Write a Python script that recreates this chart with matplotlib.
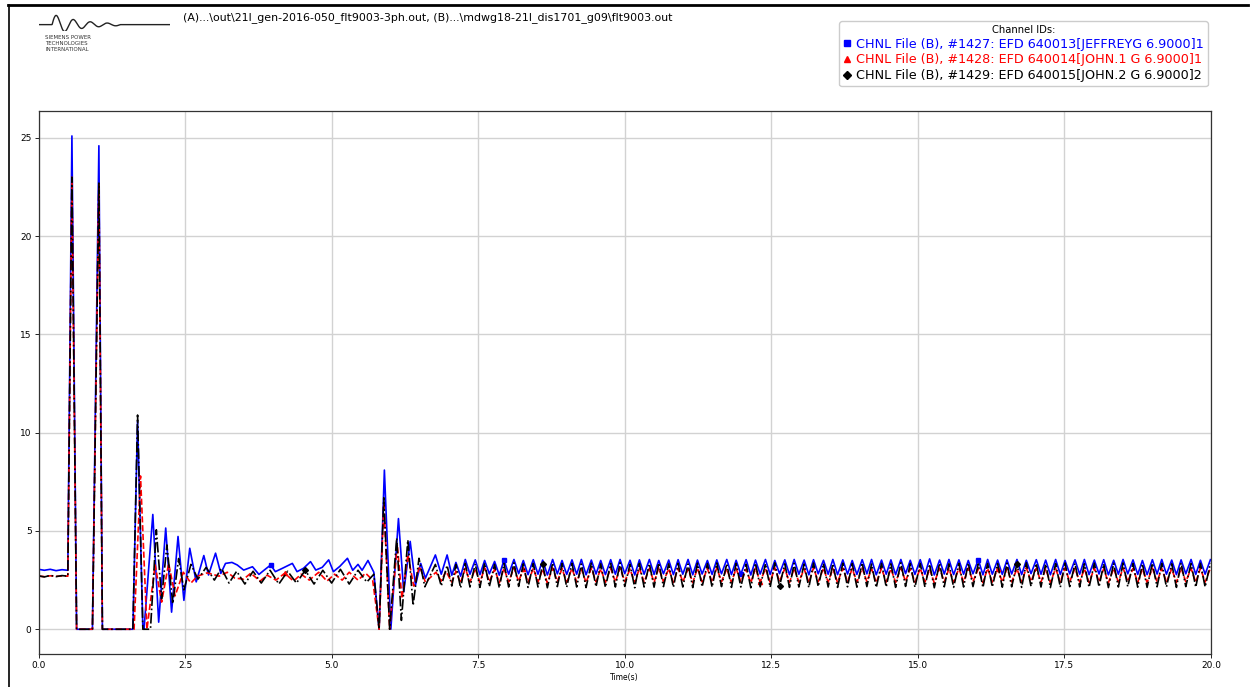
import numpy as np
import matplotlib
matplotlib.use("Agg")
import matplotlib.pyplot as plt
from matplotlib.lines import Line2D

# ---------------- data ----------------
HEADER = r"(A)...\out\21l_gen-2016-050_flt9003-3ph.out, (B)...\mdwg18-21l_dis1701_g09\flt9003.out"
LABELS = ["CHNL File (B), #1427: EFD 640013[JEFFREYG 6.9000]1",
          "CHNL File (B), #1428: EFD 640014[JOHN.1 G 6.9000]1",
          "CHNL File (B), #1429: EFD 640015[JOHN.2 G 6.9000]2"]
COLORS = ["#0000ff", "#ff0000", "black"]

# transient part (0 - 7.2 s)
BLUE_T = [0.0, 0.1, 0.2, 0.3, 0.4, 0.5, 0.57, 0.65, 0.92, 1.03, 1.09, 1.61, 1.69, 1.78, 1.80,
          1.95, 2.05, 2.17, 2.27, 2.38, 2.48, 2.58, 2.69, 2.82, 2.90, 3.02, 3.11, 3.19, 3.30,
          3.39, 3.50, 3.65, 3.76, 3.85, 3.96, 4.04, 4.16, 4.33, 4.41, 4.52, 4.64, 4.73, 4.84,
          4.95, 5.03, 5.14, 5.27, 5.36, 5.45, 5.52, 5.62, 5.72, 5.81, 5.90, 6.01, 6.14, 6.23,
          6.34, 6.43, 6.52, 6.60, 6.77, 6.87, 6.97, 7.05, 7.12, 7.20]
BLUE_V = [3.05, 3.0, 3.05, 2.98, 3.03, 3.0, 25.1, 0.0, 0.0, 24.6, 0.0, 0.0, 10.6, 0.05, 0.0,
          5.84, 0.36, 5.15, 0.87, 4.72, 1.47, 4.12, 2.41, 3.75, 2.76, 3.87, 2.84, 3.35, 3.40,
          3.27, 3.01, 3.18, 2.79, 3.01, 3.27, 2.93, 3.10, 3.35, 2.93, 3.10, 3.44, 3.01, 3.15,
          3.53, 2.93, 3.20, 3.61, 3.0, 3.3, 3.0, 3.5, 2.9, 0.0, 8.1, 0.0, 5.63, 1.90,
          4.47, 2.24, 3.35, 2.6, 3.78, 2.8, 3.78, 2.75, 3.4, 2.7]

RED_T = [0.0, 0.1, 0.2, 0.3, 0.4, 0.5, 0.57, 0.65, 0.92, 1.03, 1.09, 1.63, 1.74, 1.85,
         1.99, 2.10, 2.22, 2.33, 2.47, 2.60, 2.71, 2.88, 3.08, 3.22, 3.35, 3.50, 3.62, 3.78,
         3.90, 4.05, 4.20, 4.35, 4.48, 4.62, 4.78, 4.92, 5.05, 5.18, 5.30, 5.45, 5.58, 5.70,
         5.81, 5.89, 5.99, 6.12, 6.20, 6.30, 6.40, 6.50, 6.60, 6.78, 6.87, 6.95, 7.05, 7.12, 7.20]
RED_V = [2.7, 2.68, 2.72, 2.69, 2.71, 2.7, 23.0, 0.0, 0.0, 22.7, 0.0, 0.0, 7.8, 0.0,
         3.27, 1.38, 3.35, 1.7, 2.9, 2.35, 2.7, 2.87, 2.7, 2.9, 2.6, 2.55, 2.85, 2.45,
         2.75, 2.5, 2.85, 2.45, 2.8, 2.5, 2.9, 2.45, 2.8, 2.5, 2.9, 2.5, 2.85, 2.5,
         0.0, 6.4, 0.0, 4.3, 1.56, 3.8, 2.2, 3.2, 2.4, 2.9, 2.45, 2.95, 2.4, 2.95, 2.35]

BLACK_T = [0.0, 0.1, 0.2, 0.3, 0.4, 0.5, 0.57, 0.65, 0.92, 1.03, 1.09, 1.61, 1.69, 1.78, 1.91,
           2.01, 2.10, 2.19, 2.29, 2.39, 2.48, 2.60, 2.72, 2.86, 3.00, 3.12, 3.25, 3.38, 3.52,
           3.66, 3.80, 3.95, 4.10, 4.25, 4.40, 4.55, 4.70, 4.85, 5.00, 5.15, 5.30, 5.45, 5.60,
           5.72, 5.81, 5.89, 5.99, 6.11, 6.19, 6.30, 6.39, 6.49, 6.59, 6.77, 6.87, 6.97, 7.05,
           7.12, 7.20]
BLACK_V = [2.72, 2.66, 2.74, 2.68, 2.73, 2.7, 23.0, 0.0, 0.0, 22.7, 0.0, 0.0, 10.9, 0.0, 0.0,
           5.06, 1.55, 4.29, 1.30, 3.6, 2.0, 3.3, 2.55, 3.15, 2.5, 3.1, 2.35, 2.95, 2.3,
           2.95, 2.35, 3.0, 2.3, 2.95, 2.35, 3.0, 2.3, 3.0, 2.35, 3.05, 2.3, 3.0, 2.4,
           2.8, 0.0, 6.69, 0.0, 4.64, 0.45, 4.55, 1.21, 3.61, 2.16, 3.3, 2.2, 3.25, 2.2,
           3.3, 2.1]

# sustained oscillation (7.28 - 20 s): peak and trough instants
PEAK_T = [7.28, 7.45, 7.61, 7.78, 7.94, 8.11, 8.27, 8.44, 8.60, 8.77, 8.93, 9.10, 9.26,
          9.43, 9.59, 9.76, 9.92, 10.09, 10.25, 10.42, 10.58, 10.75, 10.91, 11.08, 11.24,
          11.41, 11.57, 11.74, 11.90, 12.07, 12.23, 12.40, 12.56, 12.73, 12.89, 13.06, 13.22,
          13.39, 13.55, 13.72, 13.88, 14.05, 14.21, 14.38, 14.54, 14.71, 14.87, 15.04, 15.20,
          15.37, 15.53, 15.70, 15.86, 16.03, 16.19, 16.36, 16.52, 16.69, 16.85, 17.02, 17.18,
          17.35, 17.51, 17.68, 17.84, 18.01, 18.17, 18.34, 18.50, 18.67, 18.83, 19.00, 19.16,
          19.33, 19.49, 19.66, 19.82, 19.99]
TROUGH_T = [7.36, 7.53, 7.69, 7.86, 8.02, 8.19, 8.35, 8.52, 8.68, 8.85, 9.01, 9.18, 9.34,
            9.51, 9.67, 9.84, 10.00, 10.17, 10.33, 10.50, 10.66, 10.83, 10.99, 11.16, 11.32,
            11.49, 11.65, 11.82, 11.98, 12.15, 12.31, 12.48, 12.64, 12.81, 12.97, 13.14, 13.30,
            13.47, 13.63, 13.80, 13.96, 14.13, 14.29, 14.46, 14.62, 14.79, 14.95, 15.12, 15.28,
            15.45, 15.61, 15.78, 15.94, 16.11, 16.27, 16.44, 16.60, 16.77, 16.93, 17.10, 17.26,
            17.43, 17.59, 17.76, 17.92, 18.09, 18.25, 18.42, 18.58, 18.75, 18.91, 19.08, 19.24,
            19.41, 19.57, 19.74, 19.90]

BLUE_PK = [3.55, 3.53, 3.50, 3.45, 3.52, 3.55, 3.50, 3.54, 3.52, 3.55, 3.50, 3.53, 3.55,
           3.52, 3.50, 3.54, 3.55, 3.51, 3.53, 3.55, 3.50, 3.52, 3.54, 3.55, 3.52,
           3.50, 3.53, 3.55, 3.51, 3.54, 3.52, 3.55, 3.50, 3.53, 3.55, 3.52, 3.54,
           3.51, 3.55, 3.53, 3.50, 3.54, 3.55, 3.52, 3.53, 3.55, 3.51, 3.54, 3.58,
           3.52, 3.55, 3.53, 3.50, 3.54, 3.55, 3.52, 3.53, 3.55, 3.51, 3.54, 3.52,
           3.55, 3.50, 3.53, 3.55, 3.52, 3.54, 3.51, 3.55, 3.53, 3.50, 3.54, 3.55,
           3.52, 3.53, 3.55, 3.51, 3.54]
BLUE_TR = [2.80, 2.78, 2.82, 2.75, 2.80, 2.83, 2.78, 2.80, 2.76, 2.82, 2.79, 2.80, 2.77,
           2.81, 2.78, 2.80, 2.83, 2.76, 2.80, 2.79, 2.82, 2.78, 2.80, 2.77, 2.81,
           2.79, 2.82, 2.78, 2.80, 2.76, 2.81, 2.79, 2.83, 2.78, 2.80, 2.77, 2.82,
           2.80, 2.78, 2.81, 2.79, 2.82, 2.77, 2.80, 2.78, 2.83, 2.79, 2.80, 2.76,
           2.81, 2.78, 2.80, 2.82, 2.77, 2.80, 2.79, 2.81, 2.78, 2.83, 2.80, 2.77,
           2.79, 2.82, 2.80, 2.78, 2.81, 2.77, 2.80, 2.82, 2.79, 2.78, 2.81, 2.80,
           2.78, 2.82, 2.79, 2.80]
RED_PK = [3.10, 3.08, 3.12, 3.05, 3.10, 3.13, 3.08, 3.10, 3.06, 3.12, 3.09, 3.10, 3.07,
          3.11, 3.08, 3.10, 3.13, 3.06, 3.10, 3.09, 3.12, 3.08, 3.10, 3.07, 3.11,
          3.09, 3.12, 3.08, 3.10, 3.06, 3.11, 3.09, 3.13, 3.08, 3.10, 3.07, 3.12,
          3.10, 3.08, 3.11, 3.09, 3.12, 3.07, 3.10, 3.08, 3.13, 3.09, 3.10, 3.06,
          3.11, 3.08, 3.10, 3.12, 3.07, 3.10, 3.09, 3.11, 3.08, 3.13, 3.10, 3.07,
          3.09, 3.12, 3.10, 3.08, 3.11, 3.07, 3.10, 3.12, 3.09, 3.08, 3.11, 3.10,
          3.08, 3.12, 3.09, 3.10, 3.11]
RED_TR = [2.40, 2.38, 2.42, 2.36, 2.40, 2.43, 2.38, 2.40, 2.36, 2.42, 2.39, 2.40, 2.37,
          2.41, 2.38, 2.40, 2.43, 2.36, 2.40, 2.39, 2.42, 2.38, 2.40, 2.37, 2.41,
          2.39, 2.42, 2.38, 2.40, 2.36, 2.41, 2.39, 2.43, 2.38, 2.40, 2.37, 2.42,
          2.40, 2.38, 2.41, 2.39, 2.42, 2.37, 2.40, 2.38, 2.43, 2.39, 2.40, 2.36,
          2.41, 2.38, 2.40, 2.42, 2.37, 2.40, 2.39, 2.41, 2.38, 2.43, 2.40, 2.37,
          2.39, 2.42, 2.40, 2.38, 2.41, 2.37, 2.40, 2.42, 2.39, 2.38, 2.41, 2.40,
          2.38, 2.42, 2.39, 2.40]
BLACK_PK = [3.35, 3.33, 3.37, 3.30, 3.35, 3.38, 3.33, 3.35, 3.31, 3.37, 3.34, 3.35, 3.32,
            3.36, 3.33, 3.35, 3.38, 3.31, 3.35, 3.34, 3.37, 3.33, 3.35, 3.32, 3.36,
            3.34, 3.37, 3.33, 3.35, 3.31, 3.36, 3.34, 3.38, 3.33, 3.35, 3.32, 3.37,
            3.35, 3.33, 3.36, 3.34, 3.37, 3.32, 3.35, 3.33, 3.38, 3.34, 3.35, 3.31,
            3.36, 3.33, 3.35, 3.37, 3.32, 3.35, 3.34, 3.36, 3.33, 3.38, 3.35, 3.32,
            3.34, 3.37, 3.35, 3.33, 3.36, 3.32, 3.35, 3.37, 3.34, 3.33, 3.36, 3.35,
            3.33, 3.37, 3.34, 3.35, 3.36]
BLACK_TR = [2.15, 2.13, 2.17, 2.10, 2.15, 2.18, 2.13, 2.15, 2.11, 2.17, 2.14, 2.15, 2.12,
            2.16, 2.13, 2.15, 2.18, 2.11, 2.15, 2.14, 2.17, 2.13, 2.15, 2.12, 2.16,
            2.14, 2.17, 2.13, 2.15, 2.11, 2.16, 2.14, 2.18, 2.13, 2.15, 2.12, 2.17,
            2.15, 2.13, 2.16, 2.14, 2.17, 2.12, 2.15, 2.13, 2.18, 2.14, 2.15, 2.11,
            2.16, 2.13, 2.15, 2.17, 2.12, 2.15, 2.14, 2.16, 2.13, 2.18, 2.15, 2.12,
            2.14, 2.17, 2.15, 2.13, 2.16, 2.12, 2.15, 2.17, 2.14, 2.13, 2.16, 2.15,
            2.13, 2.17, 2.14, 2.15]

# times where the channel markers show up on the curves
BLUE_MARKS = [3.96, 7.94, 12.0, 16.03]
RED_MARKS = [4.2, 8.27, 12.31, 16.36]
BLACK_MARKS = [4.55, 8.60, 12.64, 16.69]


def build(t0, v0, pk, tr):
    t, v = list(t0), list(v0)
    for i in range(len(PEAK_T)):
        t.append(PEAK_T[i])
        v.append(pk[i])
        if i < len(TROUGH_T):
            t.append(TROUGH_T[i])
            v.append(tr[i])
    return np.array(t), np.array(v)


series = [build(BLUE_T, BLUE_V, BLUE_PK, BLUE_TR),
          build(RED_T, RED_V, RED_PK, RED_TR),
          build(BLACK_T, BLACK_V, BLACK_PK, BLACK_TR)]
marks = [BLUE_MARKS, RED_MARKS, BLACK_MARKS]
markers = ["s", "^", "D"]
styles = ["-", "--", "-."]

# ---------------- figure ----------------
W, H = 1255, 687
fig = plt.figure(figsize=(W / 100, H / 100), dpi=100)
fig.patch.set_facecolor("white")

ax = fig.add_axes([38.5 / W, 1 - 654 / H, (1211 - 38.5) / W, (654 - 111) / H])

for (t, v), c, ls, mk, mt in zip(series, COLORS, styles, markers, marks):
    idx = [int(np.argmin(np.abs(t - m))) for m in mt]
    ax.plot(t, v, color=c, ls=ls, lw=1.2, marker=mk, markersize=3,
            markevery=idx)

ax.set_xlim(0, 20)
ax.set_ylim(-1.26, 26.37)
ax.set_xticks(np.arange(0, 20.1, 2.5))
ax.set_yticks([0, 5, 10, 15, 20, 25])
ax.grid(True, color="#d2d2d2", lw=1.0)
ax.set_axisbelow(True)
ax.tick_params(labelsize=6.5, length=3, width=0.6, pad=2)
for s in ax.spines.values():
    s.set_linewidth(0.9)
    s.set_color("#333333")
ax.set_xlabel("Time(s)", fontsize=5.5, labelpad=2)

# legend block
handles = [Line2D([], [], color=c, marker=m, ls="none", markersize=4)
           for c, m in zip(COLORS, markers)]
leg = fig.legend(handles, LABELS, loc="upper right", bbox_to_anchor=(1207.5 / W, 1 - 21 / H),
                 title="Channel IDs:", title_fontsize=7.2, fontsize=9.2,
                 labelcolor=COLORS, handlelength=0.6, handletextpad=0.4,
                 labelspacing=0.22, borderpad=0.3, borderaxespad=0,
                 frameon=True, fancybox=True, edgecolor="#cccccc", framealpha=1)

# file header
fig.text(183 / W, 1 - 18 / H, HEADER, fontsize=7.9, va="center", ha="left")

# outer frame of the screenshot
fig.add_artist(Line2D([8 / W, 1248 / W], [1 - 5 / H, 1 - 5 / H], transform=fig.transFigure,
                      color="black", lw=2))
fig.add_artist(Line2D([9 / W, 9 / W], [0, 1 - 5 / H], transform=fig.transFigure,
                      color="black", lw=1.2))

# logo
lax = fig.add_axes([39 / W, 1 - 31 / H, 131 / W, 17 / H])
lx = np.linspace(0, 1, 300)
ly = np.where(lx > 0.1, np.sin((lx - 0.1) * 2 * np.pi / 0.13) * np.exp(-(lx - 0.1) * 4.5), 0.0)
ly = np.where(lx > 0.62, 0.0, ly)
lax.plot(lx, ly, color="#222222", lw=1.0)
lax.set_xlim(0, 1)
lax.set_ylim(-0.6, 1.0)
lax.axis("off")
fig.text(45 / W, 1 - 35 / H, "SIEMENS POWER\nTECHNOLOGIES\nINTERNATIONAL", fontsize=4.0,
         va="top", ha="left", color="#333333", linespacing=1.3)

fig.savefig("out.png", dpi=100)
